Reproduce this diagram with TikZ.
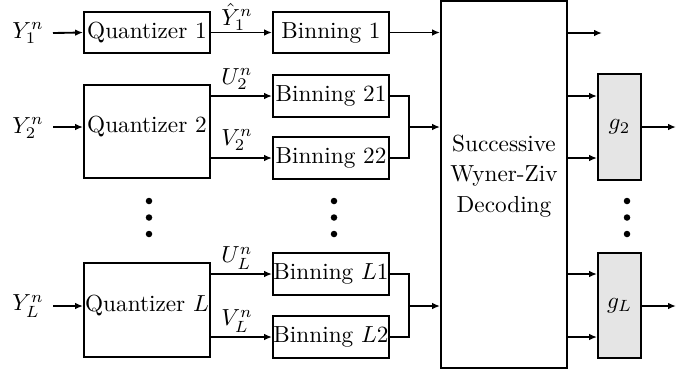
\documentclass[tikz,border=0pt]{standalone}
\usetikzlibrary{arrows.meta}
\newcommand\pxu{0.43pt}
\begin{document}
\begin{tikzpicture}[x=0.43pt,y=-0.43pt,
  box/.style={draw,line width=0.8pt,inner sep=0pt,rectangle,fill=white},
  gbox/.style={draw,line width=0.8pt,inner sep=0pt,rectangle,fill=black!10},
  lbl/.style={inner sep=0pt},
  conn/.style={line width=0.8pt},
  arr/.style={line width=0.8pt,-{Latex[length=3.4pt,width=2.8pt]}},
  dot/.style={circle,fill=black,inner sep=0pt,minimum size=2.8pt}]
\useasboundingbox (0,0) rectangle (694,374);
% quantizers
\node[box,minimum width=126*\pxu,minimum height=41*\pxu] (q1) at (147,32.5) {Quantizer 1};
\node[box,minimum width=126*\pxu,minimum height=93*\pxu] (q2) at (147,131.5) {};
\node[lbl] (q2t) at (147,127) {Quantizer 2};
\node[box,minimum width=126*\pxu,minimum height=94*\pxu] (qL) at (147,310) {};
\node[lbl] (qLt) at (147,306) {Quantizer $L$};
% binning
\node[box,minimum width=116*\pxu,minimum height=41*\pxu] (b1) at (331,32.5) {Binning 1};
\node[box,minimum width=116*\pxu,minimum height=42*\pxu] (b21) at (331,96) {Binning 21};
\node[box,minimum width=116*\pxu,minimum height=42*\pxu] (b22) at (331,158) {Binning 22};
\node[box,minimum width=116*\pxu,minimum height=42*\pxu] (bL1) at (331,274) {Binning $L1$};
\node[box,minimum width=116*\pxu,minimum height=42*\pxu] (bL2) at (331,337) {Binning $L2$};
% decoder
\node[box,minimum width=126*\pxu,minimum height=367*\pxu] (dec) at (504,184.5) {};
\node[lbl,align=center] (dect) at (504,176) {Successive\\[1pt]Wyner-Ziv\\[1pt]Decoding};
% g boxes
\node[gbox,minimum width=43*\pxu,minimum height=106*\pxu] (g2) at (619.5,127) {$g_2$};
\node[gbox,minimum width=43*\pxu,minimum height=105*\pxu] (gL) at (619.5,305.5) {$g_L$};
% inputs
\node[lbl] (y1) at (28,33) {$Y_1^n$};
\node[lbl] (y2) at (28,128) {$Y_2^n$};
\node[lbl] (yL) at (28,306) {$Y_L^n$};
\coordinate (y1s) at (53,33);
\coordinate (y2s) at (53,127);
\coordinate (yLs) at (53,306);
\draw[arr] (y1s) -- (q1.west);
\draw[arr] (y2s) -- (y2s -| q2.west);
\draw[arr] (yLs) -- (yLs -| qL.west);
% quantizer outputs
\draw[arr] (q1.east) -- (b1.west);
\draw[arr] (b21.west -| q2.east) -- (b21.west);
\draw[arr] (b22.west -| q2.east) -- (b22.west);
\draw[arr] (bL1.west -| qL.east) -- (bL1.west);
\draw[arr] (bL2.west -| qL.east) -- (bL2.west);
\node[lbl] (lY1) at (237,17) {$\hat{Y}_1^n$};
\node[lbl] (lU2) at (237,79) {$U_2^n$};
\node[lbl] (lV2) at (237,140) {$V_2^n$};
\node[lbl] (lUL) at (237,258) {$U_L^n$};
\node[lbl] (lVL) at (237,321) {$V_L^n$};
% binning to decoder
\coordinate (j2) at (409,127);
\coordinate (jL) at (409,306);
\draw[arr] (b1.east) -- (b1.east -| dec.west);
\draw[conn] (b21.east) -| (j2) |- (b22.east);
\draw[arr] (j2) -- (j2 -| dec.west);
\draw[conn] (bL1.east) -| (jL) |- (bL2.east);
\draw[arr] (jL) -- (jL -| dec.west);
% decoder outputs
\coordinate (o1) at (602,33);
\draw[arr] (o1 -| dec.east) -- (o1);
\coordinate (d21) at (567,96);
\coordinate (d22) at (567,158);
\coordinate (dL1) at (567,274);
\coordinate (dL2) at (567,337);
\draw[arr] (d21) -- (d21 -| g2.west);
\draw[arr] (d22) -- (d22 -| g2.west);
\draw[arr] (dL1) -- (dL1 -| gL.west);
\draw[arr] (dL2) -- (dL2 -| gL.west);
\coordinate (o2) at (676,127);
\coordinate (oL) at (676,306);
\draw[arr] (g2.east) -- (o2);
\draw[arr] (gL.east |- oL) -- (oL);
% dots
\foreach \xx/\nm in {149/a,334/b,627/c}{
  \node[dot] (\nm1) at (\xx,201) {};
  \node[dot] (\nm2) at (\xx,217.5) {};
  \node[dot] (\nm3) at (\xx,234) {};
}
\end{tikzpicture}
\end{document}
